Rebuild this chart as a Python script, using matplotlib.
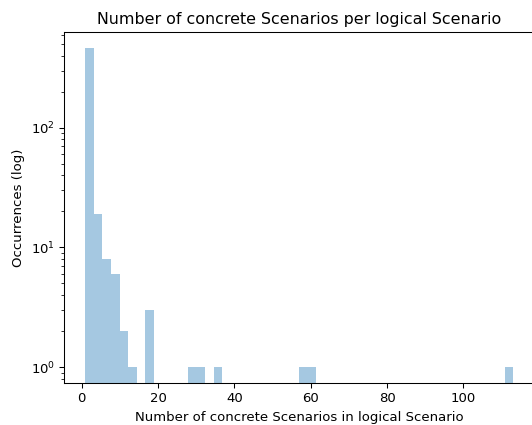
import matplotlib
matplotlib.use("Agg")
import matplotlib.pyplot as plt
import numpy as np

# histogram of concrete scenarios per logical scenario, 50 bins between min and max
x_min, x_max, n_bins = 1, 113, 50
bin_counts = [464, 19, 8, 6, 2, 1, 0, 3, 0, 0,
              0, 0, 1, 1, 0, 1, 0, 0, 0, 0,
              0, 0, 0, 0, 0, 1, 1, 0, 0, 0,
              0, 0, 0, 0, 0, 0, 0, 0, 0, 0,
              0, 0, 0, 0, 0, 0, 0, 0, 0, 1]

title = "Number of concrete Scenarios per logical Scenario"
xlabel = "Number of concrete Scenarios in logical Scenario"
ylabel = "Occurrences (log)"


def main():
    edges = np.linspace(x_min, x_max, n_bins + 1)
    # original looks rendered a bit smaller than default, so use dpi 95
    fig = plt.figure(figsize=(532 / 95, 425 / 95), dpi=95)
    ax = fig.add_axes([0.1203, 0.0988, 0.8844, 0.8259])
    ax.hist(edges[:-1], edges, weights=bin_counts, color="#1f77b4", alpha=0.4, log=True)
    ax.set_title(title)
    ax.set_xlabel(xlabel)
    ax.set_ylabel(ylabel)
    fig.savefig("out.png", dpi=95)


if __name__ == '__main__':
    main()
